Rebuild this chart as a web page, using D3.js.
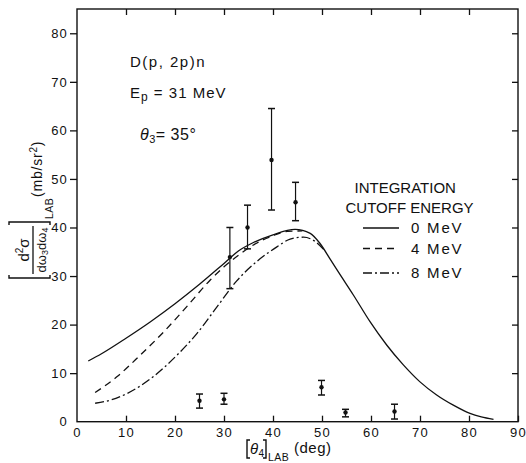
<!DOCTYPE html>
<html><head><meta charset="utf-8">
<script src="https://cdn.jsdelivr.net/npm/d3@7/dist/d3.min.js"></script>
<style>body{margin:0;background:#fff}svg{display:block}text{font-family:"Liberation Sans",Arial,sans-serif;fill:#111}</style>
</head><body>
<svg id="c" width="526" height="463"></svg>
<script>
// ---- data ----
const xTickValues = [0,10,20,30,40,50,60,70,80,90];
const yTickValues = [0,10,20,30,40,50,60,70,80];
const angle   = [25, 30, 31.2, 34.8, 39.7, 44.6, 49.9, 54.8, 64.8];
const sigma   = [4.3, 4.6, 33.9, 40.0, 53.9, 45.2, 7.1, 1.9, 2.1];
const errLow  = [2.8, 3.6, 27.4, 35.6, 43.6, 41.4, 5.5, 1.0, 0.55];
const errHigh = [5.7, 5.85, 40.0, 44.6, 64.5, 49.3, 8.5, 2.55, 3.6];

const cut0x = [2.3,5,10,15,20,25,30,33,36,40,44.5,47.6,49.6,51.6,53.3,56.4,59.8,63.2,66.6,70,73.4,76.8,80.2,82.5,85];
const cut0y = [12.5,14.0,17.2,20.6,24.3,28.3,32.6,35.2,36.9,38.5,39.6,38.8,36.7,33.6,30.9,26.1,20.6,15.8,11.7,8.2,5.5,3.4,1.7,1.0,0.5];
const cut4x = [3.7,8.2,12.9,17.7,22.4,27.2,30,33,36,40,43,46];
const cut4y = [6.0,9.3,13.7,18.5,23.7,29.2,31.9,34.3,36.4,38.3,39.2,39.3];
const cut8x = [3.7,7,10.2,15.6,20.4,24.5,28.6,32.6,36.7,40.8,43.5,46.2,48.5,50.5];
const cut8y = [3.8,4.5,5.8,9.3,13.7,18.2,23.7,29.0,33.0,36.0,37.6,38.0,37.2,35.3];

const legendLabels = ["0 MeV","4 MeV","8 MeV"];

// ---- drawing ----
const svg = d3.select("#c");
const L=77, R=518, T=9, B=421.7;
const x = d3.scaleLinear().domain([0,90]).range([L,R]);
const y = d3.scaleLinear().domain([0,85]).range([B,T]);
const ink = "#111";

// frame
svg.append("rect").attr("x",L).attr("y",T).attr("width",R-L).attr("height",B-T)
  .attr("fill","none").attr("stroke",ink).attr("stroke-width",1.4);

// bottom axis: inward ticks, labels below
const gB = svg.append("g").attr("transform",`translate(0,${B})`)
  .call(d3.axisBottom(x).tickValues(xTickValues).tickSizeInner(-6).tickSizeOuter(0).tickPadding(6).tickFormat(d3.format("d")));
// left axis: outward ticks
const gL = svg.append("g").attr("transform",`translate(${L},0)`)
  .call(d3.axisLeft(y).tickValues(yTickValues).tickSizeInner(7).tickSizeOuter(0).tickPadding(2).tickFormat(d3.format("d")));
// top axis: inward ticks
const gT = svg.append("g").attr("transform",`translate(0,${T})`)
  .call(d3.axisTop(x).tickValues(xTickValues.slice(1,-1)).tickSizeInner(-6).tickSizeOuter(0).tickFormat(""));
// right axis: inward ticks
const gR = svg.append("g").attr("transform",`translate(${R},0)`)
  .call(d3.axisRight(y).tickValues(yTickValues.slice(1)).tickSizeInner(-6).tickSizeOuter(0).tickFormat(""));
[gB,gL,gT,gR].forEach(g=>{
  g.select(".domain").remove();
  g.selectAll(".tick line").attr("stroke",ink).attr("stroke-width",1.3);
  g.selectAll(".tick text").attr("font-size",13).attr("fill",ink)
   .style("font-family",'"Liberation Sans",Arial,sans-serif').style("letter-spacing","1.2px");
});
gB.selectAll(".tick").filter(d=>d===0).select("line").remove();
gL.selectAll(".tick").filter(d=>d===0).select("line").remove();

// curves
const mk = (xs,ys)=>xs.map((v,i)=>[v,ys[i]]);
const line = d3.line().x(d=>x(d[0])).y(d=>y(d[1])).curve(d3.curveMonotoneX);
const series = [
  {pts:mk(cut0x,cut0y), dash:null},
  {pts:mk(cut4x,cut4y), dash:"7,5"},
  {pts:mk(cut8x,cut8y), dash:"9,3,2,3"}
];
series.forEach(s=>{
  svg.append("path").attr("d",line(s.pts)).attr("fill","none").attr("stroke",ink)
    .attr("stroke-width",1.3).attr("stroke-dasharray",s.dash);
});

// data points with error bars
const pts = angle.map((a,i)=>({a, s:sigma[i], lo:errLow[i], hi:errHigh[i]}));
const eg = svg.append("g").attr("stroke",ink).attr("stroke-width",1.2);
pts.forEach(p=>{
  const cx=x(p.a);
  eg.append("line").attr("x1",cx).attr("x2",cx).attr("y1",y(p.lo)).attr("y2",y(p.hi));
  [p.lo,p.hi].forEach(v=>eg.append("line").attr("x1",cx-3.5).attr("x2",cx+3.5).attr("y1",y(v)).attr("y2",y(v)).attr("stroke-width",1.5));
  svg.append("circle").attr("cx",cx).attr("cy",y(p.s)).attr("r",2.2).attr("fill",ink);
});

// annotations
svg.append("text").attr("x",130).attr("y",66.5).attr("font-size",15).style("letter-spacing","1.5px").text("D(p, 2p)n");
const ep = svg.append("text").attr("x",130).attr("y",97.5).attr("font-size",15).style("letter-spacing","1px");
ep.append("tspan").text("E");
ep.append("tspan").attr("font-size",12).attr("dy",3).text("p");
ep.append("tspan").attr("dy",-3).text(" = 31 MeV");
const th = svg.append("text").attr("x",140).attr("y",140).attr("font-size",16).style("letter-spacing","0.5px");
th.append("tspan").attr("font-style","italic").text("θ");
th.append("tspan").attr("font-size",11).attr("dy",3).text("3");
th.append("tspan").attr("dy",-3).text("= 35°");

// legend
svg.append("text").attr("x",354.5).attr("y",192.7).attr("font-size",15).text("INTEGRATION");
svg.append("text").attr("x",345.5).attr("y",213.3).attr("font-size",15).text("CUTOFF ENERGY");
const legY = [228, 248.5, 273];
const legBase = [233.3, 253.5, 278.3];
series.forEach((s,i)=>{
  svg.append("line").attr("x1",363).attr("x2",399).attr("y1",legY[i]).attr("y2",legY[i])
    .attr("stroke",ink).attr("stroke-width",1.3).attr("stroke-dasharray",s.dash);
  svg.append("text").attr("x",411).attr("y",legBase[i]).attr("font-size",15).style("letter-spacing","1.8px").text(legendLabels[i]);
});

// x axis title
const xt = svg.append("g");
xt.append("path").attr("d","M250,440 L247,440 L247,458 L250,458").attr("fill","none").attr("stroke",ink).attr("stroke-width",1.4);
xt.append("path").attr("d","M263,440 L266,440 L266,458 L263,458").attr("fill","none").attr("stroke",ink).attr("stroke-width",1.4);
xt.append("text").attr("x",250).attr("y",454).attr("font-size",15).attr("font-style","italic").text("θ");
xt.append("text").attr("x",258.5).attr("y",456.5).attr("font-size",10).text("4");
xt.append("text").attr("x",268).attr("y",461).attr("font-size",10.5).style("letter-spacing","0.5px").text("LAB");
xt.append("text").attr("x",294).attr("y",453).attr("font-size",15).style("letter-spacing","0.5px").text("(deg)");

// y axis title (rotated)
const yt = svg.append("g").attr("transform","translate(33,250) rotate(-90)");
yt.append("line").attr("x1",-24).attr("x2",24).attr("y1",0).attr("y2",0).attr("stroke",ink).attr("stroke-width",1.3);
yt.append("path").attr("d","M-25,-24 L-28,-24 L-28,17 L-25,17").attr("fill","none").attr("stroke",ink).attr("stroke-width",1.4);
yt.append("path").attr("d","M25,-24 L28,-24 L28,17 L25,17").attr("fill","none").attr("stroke",ink).attr("stroke-width",1.4);
const num = yt.append("text").attr("x",0).attr("y",-4).attr("text-anchor","middle").attr("font-size",15);
num.append("tspan").text("d");
num.append("tspan").attr("font-size",10).attr("dy",-6).text("2");
num.append("tspan").attr("dy",6).text("σ");
const den = yt.append("text").attr("x",0).attr("y",13).attr("text-anchor","middle").attr("font-size",13);
den.append("tspan").text("dω");
den.append("tspan").attr("font-size",9).attr("dy",2).text("3");
den.append("tspan").attr("dy",-2).text("dω");
den.append("tspan").attr("font-size",9).attr("dy",2).text("4");
yt.append("text").attr("x",31).attr("y",19.5).attr("font-size",10.5).style("letter-spacing","0.5px").text("LAB");
const un = yt.append("text").attr("x",53).attr("y",9).attr("font-size",14).style("letter-spacing","0.8px");
un.append("tspan").text("(mb/sr");
un.append("tspan").attr("font-size",10).attr("dy",-5).text("2");
un.append("tspan").attr("dy",5).text(")");
</script>
</body></html>
